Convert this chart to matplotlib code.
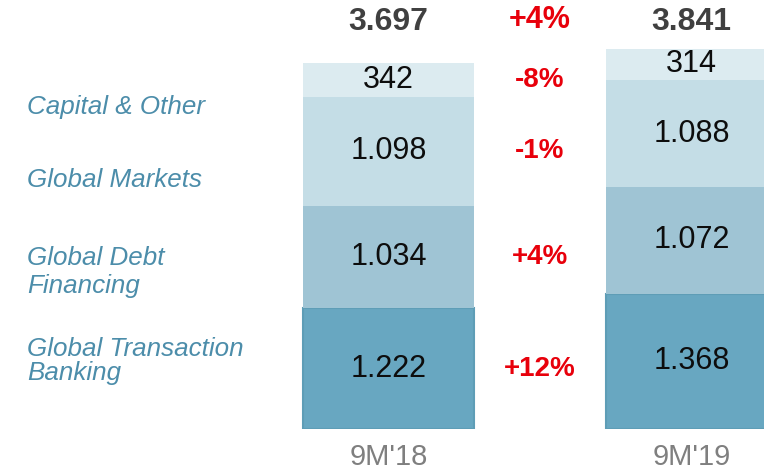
import matplotlib
matplotlib.use("Agg")
import matplotlib.pyplot as plt
from matplotlib.transforms import blended_transform_factory

plt.rcParams['font.family'] = ['Liberation Sans', 'DejaVu Sans']

# Revenue by business line (EUR m), stacked from bottom to top
periods = ["9M'18", "9M'19"]
segments = ["Global Transaction\nBanking", "Global Debt\nFinancing",
            "Global Markets", "Capital & Other"]
values_18 = [1222, 1034, 1098, 342]
values_19 = [1368, 1072, 1088, 314]
totals = [3697, 3841]

seg_colors = ["#68a7c1", "#9fc4d4", "#c4dde6", "#dcebf0"]
label_color = "#4c8daa"
red = "#e8000b"

W, H = 764, 472
fig = plt.figure(figsize=(W / 100, H / 100), dpi=100)
ax = fig.add_axes([0, 43 / H, 1, 429 / H])
ax.set_axis_off()
ax.set_ylim(0, 4333)
ax.set_xlim(-1.282, 1.239)

bar_w = 0.564
xs = [0, 1]
series = [values_18, values_19]


def fmt(v):
    return f"{v:,}".replace(",", ".")


centers_18 = []
for xi, vals in zip(xs, series):
    bottom = 0
    for i, v in enumerate(vals):
        ec = "#5e9db6" if i == 0 else seg_colors[i]
        ax.bar(xi, v, bottom=bottom, width=bar_w, color=seg_colors[i],
               edgecolor=ec, linewidth=1.5 if i == 0 else 0)
        ax.text(xi, bottom + v / 2, fmt(v), ha="center", va="center",
                fontsize=22, color="#0d0d0d")
        if xi == 0:
            centers_18.append(bottom + v / 2)
        bottom += v

top_tr = blended_transform_factory(ax.transData, fig.transFigure)

# Totals above each bar
for xi, t in zip(xs, totals):
    ax.text(xi, 1 - 22 / H, fmt(t), transform=top_tr, ha="center",
            va="center", fontsize=23, fontweight="bold", color="#404040")

# Year-on-year change per segment and in total
def pct(a, b):
    p = round((b / a - 1) * 100)
    return f"{p:+d}%"

ax.text(0.5, 1 - 20 / H, pct(totals[0], totals[1]), transform=top_tr,
        ha="center", va="center", fontsize=22, fontweight="bold", color=red)
for c, a, b in zip(centers_18, values_18, values_19):
    ax.text(0.5, c, pct(a, b), ha="center", va="center",
            fontsize=20, fontweight="bold", color=red)

# Period labels beneath the bars
for xi, p in zip(xs, periods):
    ax.text(xi, 1 - 465 / H, p, transform=top_tr, ha="center",
            va="baseline", fontsize=21, color="#7f7f7f")

# Segment names on the left
first_baselines = [356, 265, 187, 114]
line_steps = [24, 28, 0, 0]
for name, base, step in zip(segments, first_baselines, line_steps):
    for j, line in enumerate(name.split("\n")):
        fig.text(27 / W, 1 - (base + j * step) / H, line, ha="left",
                 va="baseline", fontsize=18.7, style="italic",
                 color=label_color)

fig.savefig("out.png", dpi=100)
